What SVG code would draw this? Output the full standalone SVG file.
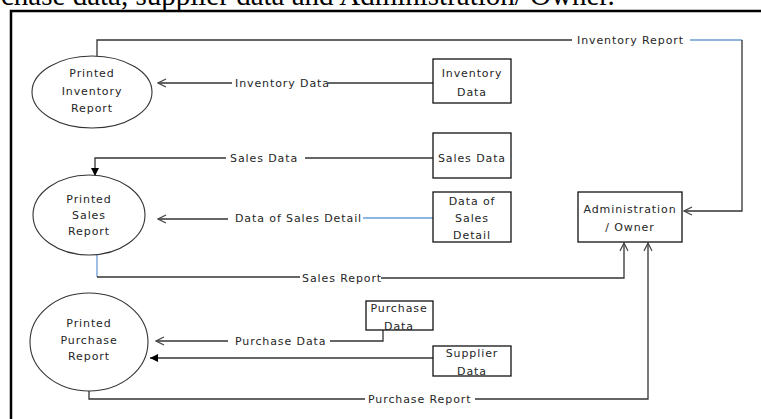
<svg xmlns="http://www.w3.org/2000/svg" width="761" height="419" viewBox="0 0 761 419">
  <style>
    .lbl { font-family: "DejaVu Sans", Verdana, sans-serif; font-size: 11px; letter-spacing: 0.9px; fill: #262626; }
    .mid { text-anchor: middle; }
    .box { fill: #fff; stroke: #111; stroke-width: 1.3; }
    .proc { fill: #fff; stroke: #333; stroke-width: 1.1; }
    .ln { fill: none; stroke: #333; stroke-width: 1.3; }
    .blue { fill: none; stroke: #6b9bd6; stroke-width: 1.3; }
    .open { marker-end: url(#openHead); }
    .solid { marker-end: url(#solidHead); }
  </style>
  <defs>
    <marker id="openHead" viewBox="0 0 10 10" refX="9" refY="5" markerWidth="10" markerHeight="10" markerUnits="userSpaceOnUse" orient="auto">
      <path d="M1,1 L9,5 L1,9" fill="none" stroke="#444" stroke-width="1.2"/>
    </marker>
    <marker id="solidHead" viewBox="0 0 8 8" refX="8" refY="4" markerWidth="8" markerHeight="8" markerUnits="userSpaceOnUse" orient="auto">
      <path d="M0,0 L8,4 L0,8 z" fill="#000"/>
    </marker>
  </defs>

  <rect width="761" height="419" fill="#fff"/>

  <!-- page text running above the figure -->
  <text x="1" y="5" font-family="Liberation Serif, serif" font-size="29" fill="#000">chase data, supplier data and Administration/ Owner.</text>

  <!-- figure frame -->
  <path d="M11,419 V11 H761" fill="none" stroke="#000" stroke-width="2.5"/>

  <!-- connectors -->
  <g id="connectors">
    <!-- Inventory Report -->
    <path class="ln" d="M97,57 V40 H572"/>
    <text class="lbl" x="577" y="44">Inventory Report</text>
    <path class="blue" d="M690,40 H742"/>
    <path class="ln open" d="M742,40 V211 H684"/>

    <!-- Inventory Data -->
    <path class="ln" d="M433,83 H328"/>
    <text class="lbl" x="235" y="87">Inventory Data</text>
    <path class="ln open" d="M232,83 H158"/>

    <!-- Sales Data -->
    <path class="ln" d="M433,158 H305"/>
    <text class="lbl" x="230" y="162">Sales Data</text>
    <path class="ln solid" d="M226,158 H95 V176"/>

    <!-- Data of Sales Detail -->
    <path class="blue" d="M433,218 H363"/>
    <text class="lbl" x="235" y="222">Data of Sales Detail</text>
    <path class="ln open" d="M228,219 H158"/>

    <!-- Sales Report -->
    <path class="blue" d="M97,255 V277"/>
    <path class="ln" d="M97,277 H300"/>
    <text class="lbl" x="302" y="282">Sales Report</text>
    <path class="ln open" d="M381,278 H624 V243"/>

    <!-- Purchase Data -->
    <path class="ln" d="M383,330 V341 H330"/>
    <text class="lbl" x="235" y="345">Purchase Data</text>
    <path class="ln open" d="M228,341 H156"/>

    <!-- Supplier Data -->
    <path class="ln solid" d="M433,358 H150"/>

    <!-- Purchase Report -->
    <path class="ln" d="M89,391 V399 H365"/>
    <text class="lbl" x="368" y="403">Purchase Report</text>
    <path class="ln open" d="M475,399 H648 V243"/>
  </g>

  <!-- nodes -->
  <g id="printed-inventory-report">
    <ellipse class="proc" cx="92" cy="92" rx="60" ry="36"/>
    <text class="lbl mid" x="92" y="77">Printed</text>
    <text class="lbl mid" x="92" y="95">Inventory</text>
    <text class="lbl mid" x="92" y="112">Report</text>
  </g>

  <g id="inventory-data">
    <rect class="box" x="433" y="59" width="78" height="44"/>
    <text class="lbl mid" x="472" y="77">Inventory</text>
    <text class="lbl mid" x="472" y="96">Data</text>
  </g>

  <g id="sales-data">
    <rect class="box" x="433" y="133" width="78" height="45"/>
    <text class="lbl mid" x="472" y="162">Sales Data</text>
  </g>

  <g id="printed-sales-report">
    <ellipse class="proc" cx="89" cy="215" rx="56" ry="40"/>
    <text class="lbl mid" x="89" y="203">Printed</text>
    <text class="lbl mid" x="89" y="219">Sales</text>
    <text class="lbl mid" x="89" y="235">Report</text>
  </g>

  <g id="data-of-sales-detail">
    <rect class="box" x="433" y="192" width="78" height="50"/>
    <text class="lbl mid" x="472" y="205">Data of</text>
    <text class="lbl mid" x="472" y="222">Sales</text>
    <text class="lbl mid" x="472" y="239">Detail</text>
  </g>

  <g id="administration-owner">
    <rect class="box" x="578" y="192" width="104" height="50"/>
    <text class="lbl mid" x="630" y="213">Administration</text>
    <text class="lbl mid" x="630" y="231">/ Owner</text>
  </g>

  <g id="printed-purchase-report">
    <ellipse class="proc" cx="89" cy="342" rx="59" ry="49"/>
    <text class="lbl mid" x="89" y="327">Printed</text>
    <text class="lbl mid" x="89" y="344">Purchase</text>
    <text class="lbl mid" x="89" y="360">Report</text>
  </g>

  <g id="purchase-data">
    <rect class="box" x="366" y="301" width="67" height="29"/>
    <text class="lbl mid" x="399" y="312">Purchase</text>
    <text class="lbl mid" x="399" y="330">Data</text>
  </g>

  <g id="supplier-data">
    <rect class="box" x="433" y="346" width="78" height="30"/>
    <text class="lbl mid" x="472" y="357">Supplier</text>
    <text class="lbl mid" x="472" y="375">Data</text>
  </g>
</svg>
